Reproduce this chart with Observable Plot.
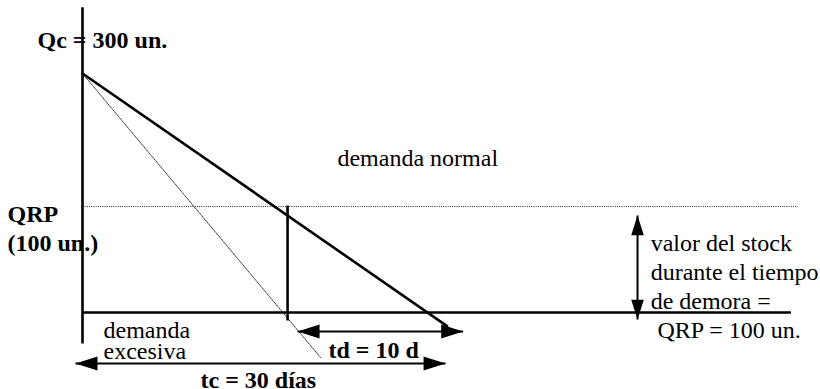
<!DOCTYPE html>
<html><head><meta charset="utf-8">
<script src="https://cdn.jsdelivr.net/npm/d3@7"></script>
<script src="https://cdn.jsdelivr.net/npm/@observablehq/plot@0.6"></script>
<style>
body{margin:0;background:#fff}
#chart svg{display:block}
#chart svg text{font-family:"Liberation Serif","Times New Roman","DejaVu Serif",serif !important;font-size:24px !important}
</style>
</head><body><div id="chart"></div>
<script>
// x in days, y in units of stock (values read from the drawing, not to exact scale)
const normalDemand = [{x: 0, y: 300}, {x: 31.7, y: -17}];      // Qc = 300 down to 0 at day 30
const excessDemand = [{x: 0, y: 300}, {x: 20.7, y: -56.5}];     // steeper dotted line
const axisV = [{x: 0, y1: 383, y2: -39}];
const axisH = [{y: 0, x1: 0, x2: 61.6}];
const qrpLine = [{y: 133, x1: 0, x2: 62.2}];
const reorderV = [{x: 17.83, y1: 134.3, y2: -10}];
const arrows = [
  {name: "td", dir: "h", x1: 18.7, y1: -23.8, x2: 33.1, y2: -23.8},
  {name: "tc", dir: "h", x1: -0.61, y1: -64, x2: 31.57, y2: -64},
  {name: "stock", dir: "v", x1: 48.26, y1: 121.8, x2: 48.26, y2: -8.8}
];
const boldLabels = [
  {t: "Qc = 300 un.", x: -3.91, y: 332.6},
  {t: "QRP", x: -6.52, y: 113},
  {t: "(100 un.)", x: -6.52, y: 76.6},
  {t: "td = 10 d", x: 21.39, y: -56.5},
  {t: "tc = 30 días", x: 10.26, y: -94.1}
];
const plainLabels = [
  {t: "demanda normal", x: 22.17, y: 184.5},
  {t: "valor del stock", x: 49.4, y: 77.8},
  {t: "durante el tiempo", x: 49.4, y: 41.4},
  {t: "de demora =", x: 49.4, y: 5.0},
  {t: "QRP = 100 un.", x: 50.0, y: -31.4},
  {t: "demanda", x: 1.83, y: -31.4},
  {t: "excesiva", x: 1.83, y: -57.7}
];

// arrow heads derived from arrow ends
const heads = arrows.flatMap(a => a.dir === "h"
  ? [{x: a.x1, y: a.y1, rot: -90, r: 10}, {x: a.x2, y: a.y2, rot: 90, r: 10}]
  : [{x: a.x1, y: a.y1, rot: 0, r: 9}, {x: a.x2, y: a.y2, rot: 180, r: 9}]);

const arrowHead = {
  draw(context, size) {
    const r = Math.sqrt(size / Math.PI);
    const L = 2.2 * r, W = 0.7 * r;
    context.moveTo(0, 0);
    context.lineTo(-W, L);
    context.lineTo(W, L);
    context.closePath();
  }
};

const font = "Liberation Serif";

const chart = Plot.plot({
  width: 820,
  height: 389,
  margin: 0,
  style: {background: "#fff", color: "#000", fontFamily: "Liberation Serif, serif", fontSize: "24px"},
  x: {domain: [-7.13, 64.17], axis: null},
  y: {domain: [-96.6, 391.6], axis: null},
  r: {type: "identity"},
  marks: [
    Plot.link(qrpLine, {x1: "x1", x2: "x2", y1: "y", y2: "y", stroke: "#222", strokeWidth: 1, strokeDasharray: "1,1.2"}),
    Plot.line(excessDemand, {x: "x", y: "y", stroke: "#333", strokeWidth: 1, strokeDasharray: "1,1"}),
    Plot.link(axisV, {x1: "x", x2: "x", y1: "y1", y2: "y2", stroke: "#000", strokeWidth: 2.6}),
    Plot.link(axisH, {x1: "x1", x2: "x2", y1: "y", y2: "y", stroke: "#000", strokeWidth: 2.6}),
    Plot.link(reorderV, {x1: "x", x2: "x", y1: "y1", y2: "y2", stroke: "#000", strokeWidth: 2.6}),
    Plot.line(normalDemand, {x: "x", y: "y", stroke: "#000", strokeWidth: 2.6}),
    Plot.link(arrows, {x1: "x1", y1: "y1", x2: "x2", y2: "y2", stroke: "#000", strokeWidth: 2}),
    Plot.dot(heads, {x: "x", y: "y", rotate: "rot", r: "r", symbol: arrowHead, fill: "#000", stroke: "none"}),
    Plot.text(boldLabels, {x: "x", y: "y", text: "t", textAnchor: "start", lineAnchor: "bottom", fontFamily: font, fontSize: 24, fontWeight: "bold", fill: "#000"}),
    Plot.text(plainLabels, {x: "x", y: "y", text: "t", textAnchor: "start", lineAnchor: "bottom", fontFamily: font, fontSize: 24, fill: "#000"})
  ]
});
document.getElementById("chart").appendChild(chart);
</script>
</body></html>
